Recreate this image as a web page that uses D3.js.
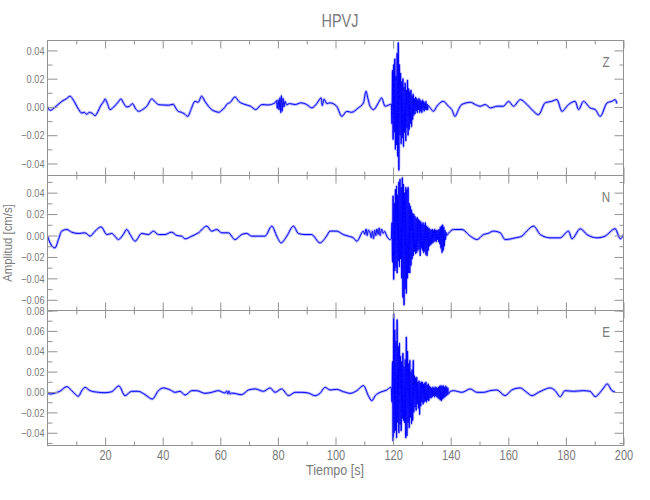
<!DOCTYPE html>
<html><head><meta charset="utf-8">
<script src="https://cdn.jsdelivr.net/npm/d3@7"></script>
<style>
body{margin:0;background:#fff}
text{font-family:"Liberation Sans",Arial,sans-serif;fill:#7a7a7a}
</style>
</head><body><svg id="c" width="650" height="500"></svg>
<script>
const title = "HPVJ";
const xLabel = "Tiempo [s]";
const yLabel = "Amplitud [cm/s]";
const componentNames = ["Z", "N", "E"];
const xTickValues = [20, 40, 60, 80, 100, 120, 140, 160, 180, 200];
const xTickLabels = ["20", "40", "60", "80", "100", "120", "140", "160", "180", "200"];
const xMinorTicks = [10, 30, 50, 70, 90, 110, 130, 150, 170, 190];
const zDomain = [-0.0485, 0.047];
const nDomain = [-0.070, 0.056];
const eDomain = [-0.0525, 0.080];
const zTicks = [-0.04, -0.02, 0.00, 0.02, 0.04];
const nTicks = [-0.06, -0.04, -0.02, 0.00, 0.02, 0.04];
const eTicks = [-0.04, -0.02, 0.00, 0.02, 0.04, 0.06, 0.08];
const zTickLabels = ["−0.04", "−0.02", "0.00", "0.02", "0.04"];
const nTickLabels = ["−0.06", "−0.04", "−0.02", "0.00", "0.02", "0.04"];
const eTickLabels = ["−0.04", "−0.02", "0.00", "0.02", "0.04", "0.06", "0.08"];
const burstStart = 119.4, burstStep = 0.2;

// Z component: [time s, amplitude cm/s]
const zPre = [[0,0],[0.9,-0.0024],[3,0.0005],[5,0.004],[6.5,0.0057],[7.8,0.0076],[9,0.0048],[10.5,-0.0007],[11.9,-0.0043],[12.8,-0.0038],[13.6,-0.0052],[14.5,-0.0038],[15.5,-0.0045],[16.5,-0.0062],[17.5,-0.0033],[18.5,0.001],[19.5,0.0038],[20,0.0057],[20.8,0.0024],[21.7,-0.0019],[23,0],[24.5,0.0033],[25.5,0.0057],[26.5,0.0024],[27.5,0],[28.5,0.0005],[29.5,0.0024],[30.5,-0.001],[31.6,-0.0031],[33,-0.0019],[34.5,0.0005],[36.2,0.0057],[37.5,0.0033],[38.5,0.0017],[40,0.0014],[42,0.0012],[43.7,0.0019],[44.5,-0.0007],[45.4,-0.0031],[46.5,-0.0038],[47.5,-0.0048],[48.7,-0.0067],[49.8,-0.0019],[51.2,0.004],[52.3,0.0033],[53.5,0.0076],[54.7,0.0038],[55.9,0.0005],[57,-0.0019],[58.2,-0.0031],[59.5,-0.0038],[60.5,-0.0024],[61.5,-0.0005],[62.2,0.0017],[63.5,0.0033],[65.1,0.0071],[66.5,0.0038],[68.6,0.0017],[70.5,0.0005],[72.3,-0.0019],[74.4,0.0017],[76.5,0.0014],[79,0.0029],[79.5,0.0045],[79.8,-0.001],[80.1,0.005],[80.4,-0.002],[80.7,0.0065],[81.0,-0.004],[81.2,0.008],[81.5,-0.003],[81.8,0.006],[82.1,0.0],[82.5,0.004],[83,0.0015],[84,0.0024],[86,0.0017],[88,0.0029],[90,0.0017],[91.8,-0.0007],[93.5,0.0024],[95,0.0064],[95.4,0.001],[96,0.0055],[97,0.0024],[98.1,0.0029],[100.4,0.0005],[102.2,-0.0067],[103.9,-0.0031],[105.6,-0.0038],[107.9,-0.0007],[109.7,0.0029],[110.6,0.0112],[111.2,0.0064],[112,0.0005],[113.2,-0.0019],[114.9,0.0029],[116,0.0064],[117.2,0.0005],[118.9,0.0017]];
const zBurst = [0.002,-0.012,0.026,-0.023,0.030,-0.018,0.034,-0.030,0.022,-0.027,0.038,-0.035,0.0455,-0.0448,0.030,-0.020,0.024,-0.026,0.018,-0.022,0.020,-0.028,0.014,-0.018,0.017,-0.024,0.012,-0.015,0.019,-0.020,0.013,-0.016,0.011,-0.012,0.012,-0.014,0.008,-0.009,0.009,-0.006,0.006,-0.005,0.007,-0.003,0.006,-0.004,0.005,-0.002,0.006,-0.004,0.005,-0.003,0.004,-0.004,0.005,-0.002,0.004,-0.003,0.003,-0.002,0.004,-0.002,0.002,-0.002,0.001];
const zPost = [[133,-0.001],[134,-0.0031],[135.2,0.0005],[137.4,0.004],[139.2,0.0005],[140.4,-0.0019],[141.5,-0.0067],[142.7,-0.0019],[143.8,0.0017],[146.9,0.0033],[148.5,0.0017],[150.2,0.0005],[152,0.0017],[153.8,-0.0007],[156.1,0.0005],[158.3,0.0005],[160.1,0.004],[161.8,0.0005],[164.2,0.0052],[166.5,0.0017],[168.2,-0.0019],[170.5,-0.0055],[172.8,0.0029],[175.1,0.004],[176.9,0.0052],[178.6,-0.0031],[180.9,0.0017],[183.2,0.004],[184.4,-0.0019],[186.1,0.004],[188.4,-0.0007],[190.2,-0.0019],[191.9,-0.0067],[194.3,0.0029],[196,0.004],[197.1,0.0052],[197.7,0.0024]];

// N component
const nPre = [[0,-0.0006],[0.9,-0.0069],[2.6,-0.0116],[3.8,-0.0038],[4.9,0.004],[6.7,0.0056],[8.4,0.0031],[10.7,0.0019],[13,0.0025],[14.8,-0.0006],[16.5,0.004],[18.6,0.0081],[20.6,0.0009],[22.3,0.0019],[23.4,-0.0006],[24.6,-0.0038],[26.3,0.0009],[27.5,0.0056],[28.7,0.0009],[30.4,-0.0053],[32.7,0.0019],[35,0.0009],[36.8,0.004],[38.5,0.0009],[40.8,0.0009],[43.1,0.0031],[44.9,0],[46.6,-0.0006],[47.8,-0.0031],[50.1,-0.0006],[52.4,0.0025],[55.3,0.0088],[57,0.004],[58.8,0.0056],[60.5,0.0025],[62.8,0.0025],[65.1,-0.0038],[67.4,0.0009],[69.2,0.0019],[70.9,-0.0006],[73.2,-0.0006],[75.5,-0.0006],[77.9,0.0088],[79.6,-0.0006],[81.1,-0.0069],[83.1,-0.0006],[85.4,0.0088],[87.1,0.0019],[89.4,0.0009],[91.7,0.0009],[94.6,-0.0069],[96.9,-0.0006],[98.1,0.0041],[100.4,0.0041],[102.7,0.0009],[104.5,-0.0006],[106.2,-0.0022],[107.4,-0.0053],[109.7,0.0041],[110.2,0.001],[110.6,0.006],[111.0,0.0],[111.4,0.005],[112.0,0.0025],[112.4,-0.002],[112.8,0.004],[113.2,-0.003],[113.6,0.005],[114.0,0.0],[114.4,0.006],[114.8,0.001],[115.2,0.007],[115.5,0.0],[116.0,0.006],[116.5,0.002],[117.0,0.004],[117.8,-0.0006],[118.9,-0.0038]];
const nBurst = [-0.003,0.012,-0.025,0.037,-0.041,0.030,-0.033,0.043,-0.030,0.046,-0.035,0.038,-0.024,0.050,-0.029,0.0525,-0.022,0.045,-0.040,0.054,-0.058,0.048,-0.065,0.040,-0.050,0.045,-0.054,0.043,-0.040,0.045,-0.035,0.030,-0.035,0.0275,-0.028,0.024,-0.022,0.021,-0.019,0.020,-0.015,0.018,-0.017,0.016,-0.016,0.017,-0.014,0.015,-0.013,0.014,-0.019,0.013,-0.012,0.011,-0.014,0.012,-0.016,0.010,-0.015,0.012,-0.018,0.009,-0.019,0.008,-0.014,0.007,-0.010,0.006,-0.009,0.005,-0.008,0.006,-0.007,0.005,-0.006,0.006,-0.005,0.005,-0.006,0.005,-0.004,0.005,-0.006,0.006,-0.008,0.008,-0.012,0.009,-0.016,0.010,-0.014,0.008,-0.010,0.005,-0.004,0.003,0.0];
const nPost = [[139.2,0.002],[141,0.0056],[143.9,0.0056],[146.8,-0.0006],[149.1,-0.0038],[151.4,0.0009],[152.9,0.0019],[154.9,0.0041],[157.2,0.0025],[158.9,-0.0038],[162.4,-0.0022],[164.7,-0.0006],[166.4,0.0041],[168.8,0.0088],[171.1,0.0009],[174.5,-0.0022],[178,-0.0022],[180.9,0.0041],[182.1,-0.0031],[185,0.0063],[187.3,0.0009],[190.8,-0.0022],[193.6,-0.0006],[197.1,0.0063],[198.9,-0.0031],[200,0.0009]];

// E component
const ePre = [[0,-0.0003],[0.9,-0.002],[2.6,-0.001],[4.3,0.0007],[6.7,0.0053],[8.4,0.0013],[9.6,-0.002],[10.7,-0.0043],[11.9,0.0013],[13,0.0046],[14.8,0.0013],[17.7,-0.0003],[20,-0.0007],[22.3,0.0003],[24.8,0.006],[26.9,-0.0036],[29.2,0.0007],[31.5,0.0007],[33.9,-0.0026],[36.4,-0.0069],[38.5,0.0013],[40.2,0.004],[42.6,0.002],[44.3,-0.0003],[46,0.0007],[47.8,-0.003],[50.1,0.0013],[51.8,0.0013],[54.7,-0.0013],[57,-0.0003],[59.3,0.0013],[61.6,-0.001],[62.2,0.001],[62.6,-0.002],[63,0.001],[63.4,-0.002],[63.9,-0.001],[67.4,-0.0026],[69.8,0.002],[72.1,0.003],[75,0.0007],[77.3,0.004],[79,-0.0003],[81.3,0.003],[83.7,-0.0036],[86,-0.0003],[88.3,-0.0003],[90.6,-0.001],[92.9,-0.0036],[94.6,-0.0013],[96.4,0.0046],[98.1,0.002],[100.4,0.0026],[102.8,0.0003],[105.1,-0.0013],[107.4,0.0013],[109.7,0.0063],[111.4,-0.0036],[112.6,-0.0086],[113.8,-0.0036],[115.5,-0.0003],[117.8,0.002],[119.2,0.0046]];
const eBurst = [0.004,-0.010,0.030,-0.048,0.077,-0.040,0.061,-0.038,0.050,-0.045,0.071,-0.030,0.045,-0.040,0.048,-0.032,0.035,-0.038,0.030,-0.026,0.038,-0.028,0.025,-0.030,0.032,-0.045,0.054,-0.043,0.040,-0.030,0.028,-0.035,0.031,-0.025,0.020,-0.031,0.022,-0.028,0.031,-0.020,0.016,-0.015,0.014,-0.018,0.0145,-0.012,0.010,-0.016,0.011,-0.022,0.009,-0.014,0.010,-0.010,0.0096,-0.012,0.008,-0.010,0.009,-0.009,0.0096,-0.010,0.007,-0.008,0.008,-0.0086,0.006,-0.006,0.005,-0.006,0.004,-0.005,0.005,-0.004,0.004,-0.005,0.005,-0.004,0.0046,-0.005,0.004,-0.006,0.005,-0.007,0.006,-0.008,0.0063,-0.0086,0.006,-0.007,0.0063,-0.006,0.005,-0.005,0.006,-0.004,0.005,-0.003,0.004,-0.002];
const ePost = [[139.8,0.0005],[141,0.0013],[143.9,-0.0003],[146.8,0.003],[149.1,-0.0003],[151.4,-0.0003],[153.7,0.0013],[156,0.002],[158.9,-0.0036],[161.2,0.002],[164.1,0.004],[166.4,-0.0003],[168.2,-0.0036],[170.5,-0.0003],[172.2,0.002],[174.5,0.004],[176.3,0.0013],[178,-0.0046],[179.7,0.0013],[182.6,0.0007],[186.1,0.0013],[188.4,0.0007],[190.2,-0.0046],[191.9,-0.0003],[193.1,0.004],[194.3,0.008],[196,0.0013],[197.1,0]];

function series(pre, burst, post) {
  return pre.concat(burst.map((v, i) => [burstStart + i * burstStep, v]), post);
}

const panels = [
  {name: componentNames[0], domain: zDomain, ticks: zTicks, labels: zTickLabels, data: series(zPre, zBurst, zPost)},
  {name: componentNames[1], domain: nDomain, ticks: nTicks, labels: nTickLabels, data: series(nPre, nBurst, nPost)},
  {name: componentNames[2], domain: eDomain, ticks: eTicks, labels: eTickLabels, data: series(ePre, eBurst, ePost)}
];

const svg = d3.select("#c");
const left = 47.5, right = 623.5, top0 = 40.5, panelH = 135;
const axisColor = "#929292";
const textColor = "#7a7a7a";
const x = d3.scaleLinear().domain([0, 200]).range([left, right]);

function narrow(sel, f) {
  sel.each(function() {
    const w = this.getComputedTextLength();
    if (w > 0) d3.select(this).attr("textLength", w * f).attr("lengthAdjust", "spacingAndGlyphs");
  });
}

narrow(svg.append("text").attr("x", 340).attr("y", 27).attr("text-anchor", "middle")
  .style("font-size", "19px").text(title), 0.76);

panels.forEach((p, k) => {
  const y0 = top0 + k * panelH, y1 = y0 + panelH;
  const y = d3.scaleLinear().domain(p.domain).range([y1, y0]);
  const g = svg.append("g");
  const clipId = "clip" + k;
  svg.append("clipPath").attr("id", clipId).append("rect")
    .attr("x", left).attr("y", y0).attr("width", right - left).attr("height", panelH);

  const line = d3.line().curve(d3.curveMonotoneX).x(d => x(d[0])).y(d => y(d[1]));
  g.append("path").datum(p.data)
    .attr("clip-path", `url(#${clipId})`)
    .attr("fill", "none").attr("stroke", "#6a6aff").attr("stroke-opacity", 0.5)
    .attr("stroke-width", 2.8).attr("stroke-linejoin", "round")
    .attr("d", line);
  g.append("path").datum(p.data)
    .attr("clip-path", `url(#${clipId})`)
    .attr("fill", "none").attr("stroke", "#0000ff").attr("stroke-width", 1.0)
    .attr("stroke-linejoin", "round")
    .attr("d", line);

  const minor = d3.range(Math.ceil(p.domain[0] * 100), Math.floor(p.domain[1] * 100) + 1)
    .map(i => i / 100).filter(v => Math.round(v * 100) % 2 !== 0);

  const styleAxis = sel => {
    sel.select(".domain").remove();
    sel.selectAll("line").attr("stroke", axisColor);
  };
  const la = g.append("g").attr("transform", `translate(${left},0)`)
    .call(d3.axisLeft(y).tickValues(p.ticks).tickSize(-10).tickPadding(3)
      .tickFormat((d, i) => p.labels[i]));
  styleAxis(la);
  la.selectAll("text").style("font-size", "11.5px").attr("fill", textColor)
    .attr("font-family", null).call(narrow, 0.8);
  g.append("g").attr("transform", `translate(${left},0)`)
    .call(d3.axisLeft(y).tickValues(minor).tickSize(-5).tickFormat(""))
    .call(styleAxis);
  g.append("g").attr("transform", `translate(${right},0)`)
    .call(d3.axisRight(y).tickValues(p.ticks).tickSize(-9).tickFormat(""))
    .call(styleAxis);
  g.append("g").attr("transform", `translate(${right},0)`)
    .call(d3.axisRight(y).tickValues(minor).tickSize(-4).tickFormat(""))
    .call(styleAxis);

  g.append("g").attr("transform", `translate(0,${y0})`)
    .call(d3.axisTop(x).tickValues(xTickValues).tickSize(-8).tickFormat("")).call(styleAxis);
  g.append("g").attr("transform", `translate(0,${y0})`)
    .call(d3.axisTop(x).tickValues(xMinorTicks).tickSize(-4).tickFormat("")).call(styleAxis);
  const bx = g.append("g").attr("transform", `translate(0,${y1})`)
    .call(d3.axisBottom(x).tickValues(xTickValues).tickSize(-8).tickPadding(4)
      .tickFormat((d, i) => k === 2 ? xTickLabels[i] : ""));
  styleAxis(bx);
  bx.selectAll("text").style("font-size", "14.5px").attr("fill", textColor)
    .attr("font-family", null).call(narrow, 0.76);
  g.append("g").attr("transform", `translate(0,${y1})`)
    .call(d3.axisBottom(x).tickValues(xMinorTicks).tickSize(-4).tickFormat("")).call(styleAxis);

  g.append("rect").attr("x", left).attr("y", y0).attr("width", right - left).attr("height", panelH)
    .attr("fill", "none").attr("stroke", axisColor).attr("stroke-width", 1);

  narrow(g.append("text").attr("x", 606).attr("y", y0 + 26).attr("text-anchor", "middle")
    .style("font-size", "14.5px").text(p.name), 0.8);
});

narrow(svg.append("text").attr("x", 335).attr("y", 475).attr("text-anchor", "middle")
  .style("font-size", "14.5px").text(xLabel), 0.86);
narrow(svg.append("text").attr("transform", "translate(12,243) rotate(-90)").attr("text-anchor", "middle")
  .style("font-size", "13.5px").text(yLabel), 0.84);
</script>
</body></html>
